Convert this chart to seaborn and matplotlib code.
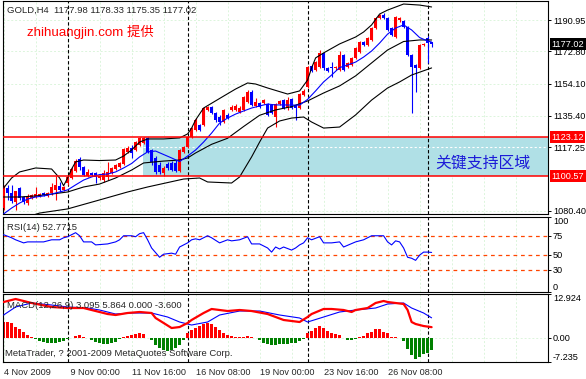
import numpy as np
import pandas as pd
import matplotlib
matplotlib.use('Agg')
import matplotlib.pyplot as plt
import seaborn as sns

# ---- data (GOLD, H4, 4 Nov 08:00 .. 30 Nov 04:00) ----
symbol = 'GOLD,H4'

open_ = [1082.1, 1093.7, 1090.8, 1085.6, 1093.7, 1088.5, 1085.0, 1087.9, 1088.5, 1089.1,
         1090.8, 1089.1, 1090.8, 1092.6, 1094.9, 1092.6, 1096.6, 1099.5, 1103.6, 1110.5,
         1105.9, 1100.7, 1102.4, 1102.4, 1099.5, 1098.3, 1100.1, 1102.4, 1104.7, 1105.9,
         1107.6, 1114.6, 1116.9, 1115.7, 1118.6, 1119.8, 1122.7, 1115.7, 1111.1, 1107.0,
         1102.4, 1107.6, 1108.2, 1108.2, 1103.6, 1114.6, 1117.4, 1123.2, 1127.3, 1130.2,
         1130.2, 1138.9, 1140.6, 1137.1, 1134.8, 1131.9, 1136.0, 1138.9, 1138.9, 1137.7,
         1138.9, 1143.5, 1149.3, 1141.2, 1142.9, 1142.9, 1142.3, 1141.8, 1134.8, 1142.3,
         1144.6, 1140.0, 1145.2, 1141.8, 1140.0, 1147.5, 1152.2, 1164.3, 1162.0, 1163.8,
         1171.9, 1163.2, 1163.8, 1163.2, 1162.0, 1170.7, 1163.8, 1164.9, 1169.0, 1172.4,
         1178.2, 1176.5, 1179.4, 1186.3, 1192.1, 1193.8, 1192.1, 1186.3, 1181.1, 1191.0,
         1190.4, 1186.9, 1170.7, 1164.9, 1163.2, 1176.5, 1180.5, 1177.98]
high = [1095.5, 1095.5, 1095.5, 1092.0, 1094.3, 1089.1, 1090.2, 1090.2, 1094.3, 1090.8,
        1091.4, 1091.4, 1096.6, 1100.7, 1097.2, 1094.9, 1100.7, 1105.9, 1110.5, 1111.7,
        1106.4, 1104.7, 1103.0, 1103.0, 1101.2, 1104.1, 1108.8, 1105.9, 1107.6, 1108.8,
        1116.9, 1118.0, 1118.6, 1120.9, 1123.2, 1123.3, 1123.2, 1116.3, 1112.2, 1108.8,
        1106.4, 1108.8, 1109.3, 1110.0, 1116.3, 1118.0, 1123.8, 1129.0, 1134.2, 1130.7,
        1140.6, 1141.2, 1141.2, 1137.7, 1136.0, 1139.4, 1137.1, 1141.8, 1142.3, 1141.2,
        1147.0, 1150.4, 1150.4, 1145.8, 1143.5, 1145.2, 1142.9, 1142.3, 1142.9, 1144.6,
        1145.2, 1146.4, 1145.8, 1142.3, 1148.7, 1151.0, 1164.3, 1164.9, 1167.2, 1173.6,
        1172.4, 1163.8, 1166.6, 1164.3, 1173.0, 1171.3, 1166.6, 1169.5, 1175.3, 1178.8,
        1178.8, 1181.1, 1186.9, 1192.7, 1194.4, 1195.0, 1192.7, 1186.9, 1193.3, 1192.7,
        1191.0, 1187.5, 1171.3, 1165.5, 1177.1, 1177.6, 1181.7, 1178.33]
low = [1081.0, 1086.8, 1085.0, 1081.0, 1086.8, 1084.5, 1083.9, 1087.3, 1087.9, 1088.5,
       1089.1, 1088.5, 1089.7, 1086.8, 1091.4, 1092.0, 1095.5, 1098.9, 1103.0, 1104.1,
       1100.7, 1100.1, 1100.7, 1096.6, 1098.3, 1097.2, 1098.3, 1101.8, 1104.1, 1105.3,
       1107.0, 1114.0, 1111.1, 1115.1, 1118.0, 1119.2, 1114.0, 1107.0, 1101.8, 1101.8,
       1100.7, 1104.1, 1103.6, 1103.0, 1103.0, 1114.0, 1116.9, 1122.7, 1126.7, 1126.7,
       1129.6, 1138.3, 1136.5, 1131.9, 1130.2, 1131.3, 1133.6, 1138.3, 1138.3, 1137.1,
       1138.3, 1142.9, 1141.2, 1140.6, 1140.0, 1142.3, 1135.4, 1136.5, 1129.0, 1141.8,
       1139.4, 1138.9, 1139.4, 1133.1, 1139.4, 1147.0, 1151.6, 1160.9, 1161.4, 1163.2,
       1162.0, 1160.9, 1158.0, 1162.0, 1161.4, 1161.4, 1163.2, 1164.3, 1168.4, 1171.9,
       1175.9, 1175.9, 1178.8, 1185.7, 1191.5, 1191.5, 1184.6, 1181.7, 1180.5, 1189.8,
       1186.3, 1170.1, 1137.1, 1149.3, 1162.6, 1175.9, 1166.1, 1175.35]
close = [1094.3, 1090.8, 1086.2, 1092.0, 1087.9, 1085.6, 1088.5, 1089.7, 1090.2, 1090.2,
         1089.7, 1090.8, 1094.3, 1095.5, 1092.6, 1094.3, 1100.1, 1104.7, 1109.3, 1105.9,
         1101.2, 1103.0, 1101.2, 1100.1, 1100.7, 1102.4, 1103.0, 1105.3, 1107.0, 1108.2,
         1116.3, 1116.9, 1114.0, 1120.3, 1122.7, 1122.7, 1114.6, 1108.8, 1103.0, 1103.0,
         1105.3, 1105.3, 1104.1, 1103.6, 1115.7, 1117.4, 1123.2, 1128.4, 1133.1, 1127.3,
         1140.0, 1140.6, 1137.1, 1133.1, 1131.9, 1138.9, 1134.2, 1140.6, 1141.2, 1140.0,
         1146.4, 1149.3, 1141.8, 1143.5, 1140.6, 1144.6, 1136.0, 1137.1, 1142.3, 1144.1,
         1140.0, 1144.6, 1140.0, 1140.0, 1148.1, 1149.9, 1163.8, 1161.4, 1166.6, 1171.9,
         1163.2, 1161.4, 1163.2, 1163.8, 1170.7, 1162.0, 1166.1, 1169.0, 1174.7, 1178.2,
         1176.5, 1180.5, 1186.3, 1192.1, 1193.8, 1192.1, 1185.2, 1182.3, 1192.7, 1192.1,
         1186.9, 1170.7, 1163.8, 1163.2, 1176.5, 1177.1, 1177.6, 1177.02]

# Bollinger bands and the short moving average (bar index, price)
upper_idx = [0, 2, 4, 8, 12, 14, 15, 16, 17, 18, 20, 24, 28, 30, 32, 34, 36, 40, 44, 46, 47, 48,
             50, 55, 58, 61, 63, 66, 71, 74, 76, 77, 78, 80, 84, 88, 90, 92, 94, 96, 100, 104, 107]
upper_val = [1093.7, 1099.5, 1103.0, 1105.3, 1104.7, 1099.5, 1095.0, 1099.5, 1104.7, 1108.8, 1109.9,
             1109.6, 1109.9, 1112.2, 1115.7, 1120.3, 1122.1, 1122.1, 1122.7, 1125.0, 1128.4, 1133.1,
             1140.0, 1146.9, 1151.0, 1154.5, 1153.9, 1151.6, 1148.1, 1149.9, 1156.2, 1163.2, 1169.0,
             1171.9, 1177.1, 1181.1, 1184.0, 1188.1, 1194.4, 1196.7, 1200.2, 1199.6, 1198.5]
middle_idx = [0, 4, 8, 12, 16, 20, 24, 28, 32, 35, 40, 44, 46, 48, 52, 56, 60, 64, 68, 72, 76,
              80, 84, 88, 92, 96, 100, 104, 107]
middle_val = [1088.5, 1088.5, 1089.1, 1090.2, 1091.4, 1094.3, 1096.0, 1099.5, 1104.1, 1108.2,
              1109.3, 1109.9, 1111.1, 1114.0, 1119.0, 1122.5, 1129.3, 1135.8, 1138.9, 1140.8,
              1144.1, 1148.7, 1152.8, 1158.6, 1166.1, 1173.6, 1178.5, 1179.4, 1179.4]
lower_idx = [0, 5, 9, 16, 24, 31, 36, 45, 49, 51, 57, 59, 62, 64, 66, 69, 72, 75, 77, 80, 84,
             88, 92, 96, 99, 102, 107]
lower_val = [1072.3, 1076.3, 1079.2, 1081.6, 1086.8, 1091.4, 1094.3, 1098.9, 1099.5, 1097.2,
             1096.6, 1100.1, 1111.7, 1120.3, 1128.4, 1132.5, 1134.2, 1134.8, 1131.9, 1128.4,
             1129.0, 1136.0, 1144.6, 1151.6, 1155.1, 1159.1, 1163.2]
ma_idx = list(range(0, 107, 2)) + [107]
ma_val = [1078.7, 1082.1, 1085.0, 1087.3, 1088.5, 1089.1, 1090.2, 1091.4, 1092.6, 1095.5,
          1098.3, 1100.1, 1101.5, 1101.8, 1103.0, 1105.3, 1107.9, 1111.7, 1114.6, 1115.1,
          1113.1, 1111.1, 1109.0, 1112.2, 1115.7, 1120.3, 1125.5, 1131.3, 1134.2, 1136.5,
          1138.3, 1140.0, 1141.2, 1142.3, 1141.8, 1141.8, 1141.7, 1141.7, 1145.0, 1149.9,
          1155.1, 1159.1, 1163.4, 1164.9, 1166.6, 1169.5, 1173.0, 1177.6, 1182.8, 1186.3,
          1188.1, 1185.2, 1180.8, 1178.8, 1178.2]

# RSI(14)
rsi_idx = [0, 2, 3, 5, 6, 10, 12, 14, 15, 16, 18, 19, 20, 22, 23, 26, 28, 29, 30, 32, 33, 34, 35,
           36, 37, 39, 40, 42, 43, 44, 46, 47, 48, 49, 51, 52, 54, 56, 57, 59, 61, 62, 64, 66, 67,
           68, 69, 70, 72, 73, 74, 75, 76, 77, 79, 80, 82, 84, 85, 88, 90, 92, 95, 96, 97, 98, 99,
           100, 101, 102, 103, 104, 105, 106, 107]
rsi_val = [76.4, 72.3, 69.6, 65.5, 66.8, 66.8, 69.6, 69.6, 72.3, 73.7, 79.1, 75.0, 66.8, 66.8,
           62.8, 64.1, 66.8, 69.6, 75.0, 75.0, 73.7, 77.8, 79.1, 69.6, 58.7, 46.3, 50.4, 51.8,
           50.4, 60.0, 65.5, 69.6, 70.9, 69.6, 75.0, 72.3, 65.5, 69.6, 68.2, 69.6, 73.7, 64.1,
           64.1, 58.7, 53.2, 60.0, 57.3, 60.0, 55.9, 58.7, 62.8, 65.5, 72.3, 69.6, 73.7, 65.5,
           65.5, 66.8, 60.0, 66.8, 69.6, 75.0, 75.0, 66.8, 62.8, 68.2, 66.8, 58.7, 46.3, 45.0,
           42.2, 49.1, 53.2, 53.2, 52.7715]
rsi_levels = [75, 50, 30]

# MACD(12,26,9): main line, signal line, histogram
macd_idx = [0, 3, 7, 12, 16, 20, 22, 26, 28, 31, 34, 37, 38, 40, 42, 44, 46, 47, 50, 52, 56, 59,
            62, 66, 70, 74, 76, 77, 80, 82, 85, 87, 88, 91, 93, 95, 96, 100, 101, 102, 103, 105, 107]
macd_val = [10.55, 11.44, 10.26, 9.07, 8.77, 8.77, 8.18, 6.99, 6.70, 7.29, 7.59, 7.29, 5.81, 4.33,
            2.84, 3.13, 4.33, 5.22, 7.29, 8.48, 7.88, 8.18, 7.88, 6.99, 5.22, 4.62, 6.10, 6.99,
            8.48, 8.48, 8.18, 7.59, 8.18, 8.77, 10.26, 10.85, 10.55, 9.96, 8.18, 4.62, 4.03, 3.43,
            3.095]
signal_idx = [0, 3, 7, 12, 16, 21, 24, 28, 32, 37, 41, 44, 47, 51, 54, 59, 64, 69, 74, 76, 80, 84,
              88, 93, 96, 100, 102, 105, 107]
signal_val = [6.70, 9.07, 10.26, 9.66, 9.07, 8.77, 8.18, 6.99, 7.29, 7.29, 6.10, 4.62, 3.73, 4.62,
              6.70, 7.88, 7.88, 6.70, 5.81, 4.62, 6.10, 7.59, 8.18, 8.77, 9.96, 10.26, 8.77, 7.29,
              5.864]
hist = [4.74, 4.74, 4.25, 3.26, 2.47, 1.78, 0.79, 0.10, -0.49, -0.89,
        -1.38, -1.68, -1.68, -1.48, -1.19, -0.89, -0.49, 0.0, 0.49, 0.79,
        0.30, -0.05, -0.69, -1.19, -1.68, -1.88, -1.98, -1.68, -1.19, -0.49,
        0.05, 0.49, 0.79, 1.09, 1.28, 0.99, 0.0, -0.69, -2.17, -3.16,
        -3.66, -3.85, -3.66, -3.16, -2.17, -0.69, 1.48, 2.27, 2.96, 3.46,
        3.95, 4.25, 3.95, 3.06, 2.27, 1.28, 0.79, 0.49, 0.30, 0.10,
        0.30, 0.49, 0.10, -0.20, -0.69, -1.48, -1.88, -2.17, -2.17, -1.98,
        -1.88, -1.88, -1.68, -1.68, -0.89, -0.49, 1.48, 2.08, 2.77, 3.46,
        2.77, 2.08, 1.48, 0.99, 0.79, 0.0, -0.69, -0.69, -0.40, 0.30,
        0.59, 1.28, 1.78, 2.47, 2.47, 1.78, 1.28, 0.30, 0.10, -0.20,
        -0.89, -3.46, -5.14, -6.42, -5.63, -4.84, -4.64, -3.60]

# support zone drawn by the analyst
zone_high = 1123.12
zone_low = 1100.57
zone_start_bar = 34.8

price_ticks = [1190.95, 1172.80, 1154.10, 1135.40, 1117.25, 1080.40]
tick_bars = [0, 16, 32, 48, 64, 80, 96]
tick_labels = ['4 Nov 2009', ' 9 Nov 00:00', '11 Nov 16:00', '16 Nov 08:00',
               '19 Nov 00:00', '23 Nov 16:00', '26 Nov 08:00']
week_start = [16, 46, 76, 106]

RED, BLUE, GREEN = '#ff0000', '#0000ff', '#008000'
GRID = '#dcf5dc'

sns.set_style('white')
plt.rcParams['font.family'] = ['Liberation Sans', 'Noto Sans CJK SC', 'DejaVu Sans']

W, H = 586, 379
fig = plt.figure(figsize=(W / 100, H / 100), dpi=100)
fig.patch.set_facecolor('white')


def pane(top, bottom):
    return fig.add_axes([3 / W, 1 - bottom / H, 545 / W, (bottom - top) / H])


ax = pane(1, 214)
ax_rsi = pane(217, 292)
ax_macd = pane(294, 362)

df = pd.DataFrame({'open': open_, 'high': high, 'low': low, 'close': close})
df['bar'] = np.arange(len(df))
colors = np.where(df['close'] >= df['open'], RED, BLUE)
XMAX = 136.1

for a in (ax, ax_rsi, ax_macd):
    a.set_xlim(-0.15, XMAX)
    a.set_xticks(tick_bars)
    a.set_xticks(np.arange(0, 137, 8), minor=True)
    a.grid(True, which='both', axis='x', color=GRID, ls=(0, (2, 2)), lw=0.7)
    a.set_axisbelow(True)
    for s in a.spines.values():
        s.set_color('black')
        s.set_linewidth(0.8)
    for b in week_start:
        a.axvline(b, color='black', ls=(0, (3, 2)), lw=0.8, zorder=2)
    a.yaxis.tick_right()
    a.tick_params(axis='y', which='both', direction='out', length=2, width=0.7,
                  pad=1.5, labelsize=6.6, colors='black')
    a.tick_params(axis='x', which='both', length=0, labelbottom=False)

# ---- main price pane ----
ax.set_ylim(1078.66, 1201.95)
ax.set_yticks(price_ticks)
ax.set_yticklabels([f'{p:.2f}' for p in price_ticks])
ax.grid(True, axis='y', color=GRID, ls=(0, (2, 2)), lw=0.7)
ax.fill_between([zone_start_bar, XMAX], zone_low, zone_high, color='#b0e0e6', lw=0, zorder=1)
ax.hlines(price_ticks[4], zone_start_bar, XMAX, colors='white', ls=(0, (2, 2)), lw=0.8, zorder=1.2)

ax.vlines(df['bar'], df['low'], df['high'], colors=colors, lw=0.8, zorder=3)
body_lo = df[['open', 'close']].min(axis=1)
body_h = (df['close'] - df['open']).abs().clip(lower=0.35)
ax.bar(df['bar'], body_h, bottom=body_lo, width=0.72, color=colors, lw=0, zorder=3)

for idx, val in [(upper_idx, upper_val), (middle_idx, middle_val), (lower_idx, lower_val)]:
    sns.lineplot(x=idx, y=val, ax=ax, color='black', lw=0.8, zorder=3.5)
sns.lineplot(x=ma_idx, y=ma_val, ax=ax, color=BLUE, lw=0.8, zorder=3.6)

ax.axhline(zone_high, color=RED, lw=1.1, zorder=4)
ax.axhline(zone_low, color=RED, lw=1.1, zorder=4)
for lvl, fc in [(zone_high, RED), (zone_low, RED), (close[-1], 'black')]:
    ax.annotate(f'{lvl:.2f}', xy=(1, lvl), xycoords=('axes fraction', 'data'),
                xytext=(2.4, 0), textcoords='offset points', ha='left', va='center',
                fontsize=6.6, color='white', annotation_clip=False, zorder=10,
                bbox=dict(boxstyle='square,pad=0.18', fc=fc, ec='none'))
ax.set_xlabel('')
ax.set_ylabel('')

# ---- RSI pane ----
ax_rsi.set_ylim(0, 100)
for lvl in rsi_levels:
    ax_rsi.axhline(lvl, color='#ff4500', ls=(0, (3, 3)), lw=0.9, zorder=1.5)
sns.lineplot(x=rsi_idx, y=rsi_val, ax=ax_rsi, color=BLUE, lw=0.8, zorder=3)
ax_rsi.set_yticks([0, 30, 50, 75, 100])
ax_rsi.set_yticklabels(['0', '30', '50', '75', '100'])
ticks = ax_rsi.yaxis.get_major_ticks()
ticks[0].label2.set_va('bottom')
ticks[-1].label2.set_va('top')
ax_rsi.set_xlabel('')
ax_rsi.set_ylabel('')

# ---- MACD pane ----
ax_macd.set_ylim(-7.235, 12.924)
hist_colors = np.where(np.array(hist) >= 0, RED, GREEN)
ax_macd.bar(df['bar'], hist, width=0.72, color=hist_colors, lw=0, zorder=2)
ax_macd.axhline(0, color=GRID, ls=(0, (2, 2)), lw=0.7, zorder=1)
sns.lineplot(x=signal_idx, y=signal_val, ax=ax_macd, color=BLUE, lw=0.8, zorder=3)
sns.lineplot(x=macd_idx, y=macd_val, ax=ax_macd, color=RED, lw=1.6, zorder=3.2)
ax_macd.set_yticks([-7.235, 0, 12.924])
ax_macd.set_yticklabels(['-7.235', '0.00', '12.924'])
ticks = ax_macd.yaxis.get_major_ticks()
ticks[0].label2.set_va('bottom')
ticks[-1].label2.set_va('top')
ax_macd.set_xticklabels(tick_labels, ha='left')
ax_macd.tick_params(axis='x', which='major', length=2.5, width=0.7, direction='out',
                    labelbottom=True, labelsize=6.6, pad=1.5)
ax_macd.set_xlabel('')
ax_macd.set_ylabel('')

# ---- chart texts ----
def label(x, y, s, **kw):
    fig.text(x / W, 1 - y / H, s, va='center', ha='left', **kw)


label(7, 10, f'{symbol}  {open_[-1]:.2f} {high[-1]:.2f} {low[-1]:.2f} {close[-1]:.2f}', fontsize=6.8)
label(27, 32, 'zhihuangjin.com 提供', color=RED, fontsize=9.6)
label(435, 163, '关键支持区域', color='#1c1cd8', fontsize=11.4)
label(7, 227, f'RSI(14) {rsi_val[-1]:.4f}', fontsize=6.8)
label(7, 305, f'MACD(12,26,9) {macd_val[-1]:.3f} {signal_val[-1]:.3f} 0.000 {hist[-1]:.3f}', fontsize=6.8)
label(5, 353, 'MetaTrader, ? 2001-2009 MetaQuotes Software Corp.', fontsize=6.8)

fig.savefig('out.png', dpi=100, facecolor='white')
